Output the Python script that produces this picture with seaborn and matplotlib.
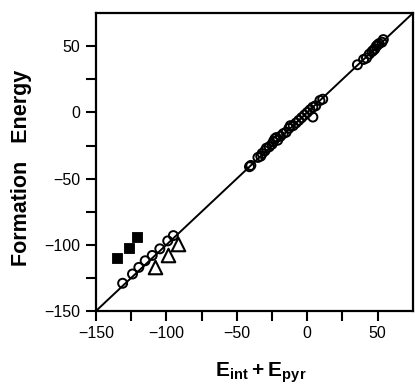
import numpy as np
import pandas as pd
import matplotlib
matplotlib.use("Agg")
import matplotlib.pyplot as plt
import seaborn as sns

sns.set_theme(style="ticks")
plt.rcParams['font.family'] = ['Liberation Sans', 'DejaVu Sans']
plt.rcParams['mathtext.fontset'] = 'custom'
plt.rcParams['mathtext.bf'] = 'Liberation Sans:bold'
plt.rcParams['mathtext.rm'] = 'Liberation Sans'
plt.rcParams['text.color'] = 'black'
plt.rcParams['axes.labelcolor'] = 'black'
plt.rcParams['xtick.color'] = 'black'
plt.rcParams['ytick.color'] = 'black'

# open circles (most of the points)
circ_x = [-131, -124, -119.5, -115, -110, -104.6, -99, -95,
          -41, -40, -35, -33, -32, -30, -29, -27, -25, -24, -23, -22, -21,
          -19, -17, -15, -13, -12, -10, -8, -6, -4, -2, 0, 2, 4, 4, 6, 9, 11,
          35.6, 40, 42, 44, 46, 47, 48, 49, 50, 51, 53, 54]
circ_y = [-129, -122, -117, -112, -108, -103, -97, -93,
          -41, -40, -34, -33, -31, -29, -27, -26, -24, -22, -20, -19, -21,
          -18, -16, -15, -12, -10, -10, -8, -6, -4, -2, 0, 2, 4, -3.5, 5, 9, 10,
          36, 40, 41, 44, 46, 47, 48, 50, 51, 52, 53, 55]
# filled squares
sq_x = [-135, -126.5, -120.5]
sq_y = [-110, -102, -94]
# open triangles
tri_x = [-108, -99, -92]
tri_y = [-117, -108, -99]
# y = x reference line
line_x = [-150, 75]
line_y = [-150, 75]

f = plt.figure(figsize=(4.15, 3.85), dpi=100)
ax = f.add_axes([0.231, 0.192, 0.764, 0.774])

sns.lineplot(x=line_x, y=line_y, ax=ax, color="black", lw=1.4)
sns.scatterplot(x=circ_x, y=circ_y, ax=ax, marker="o", s=42,
                facecolor="none", edgecolor="black", linewidth=1.4, zorder=3)
sns.scatterplot(x=tri_x, y=tri_y, ax=ax, marker="^", s=95,
                facecolor="white", edgecolor="black", linewidth=1.5, zorder=3)
sns.scatterplot(x=sq_x, y=sq_y, ax=ax, marker="s", s=60,
                color="black", edgecolor="black", zorder=3)

ax.set_xlim(-150, 75)
ax.set_ylim(-150, 75)
ax.set_xticks([-150, -100, -50, 0, 50])
ax.set_yticks([-150, -100, -50, 0, 50])
ax.set_xticks(np.arange(-125, 75, 50), minor=True)
ax.set_yticks(np.arange(-125, 75, 50), minor=True)
ax.tick_params(which="both", direction="out", length=7, width=1.5, color="black")
ax.tick_params(which="major", labelsize=11.5, pad=4)
for s in ax.spines.values():
    s.set_linewidth(1.6)
    s.set_color("black")

ax.set_xlabel(r"$\mathbf{E_{int} + E_{pyr}}$", fontsize=15)
ax.xaxis.set_label_coords(0.52, -0.165)
ax.set_ylabel("Formation   Energy", fontsize=15.5, fontweight="bold")
ax.yaxis.set_label_coords(-0.2, 0.48)

plt.savefig("out.png", dpi=100)
